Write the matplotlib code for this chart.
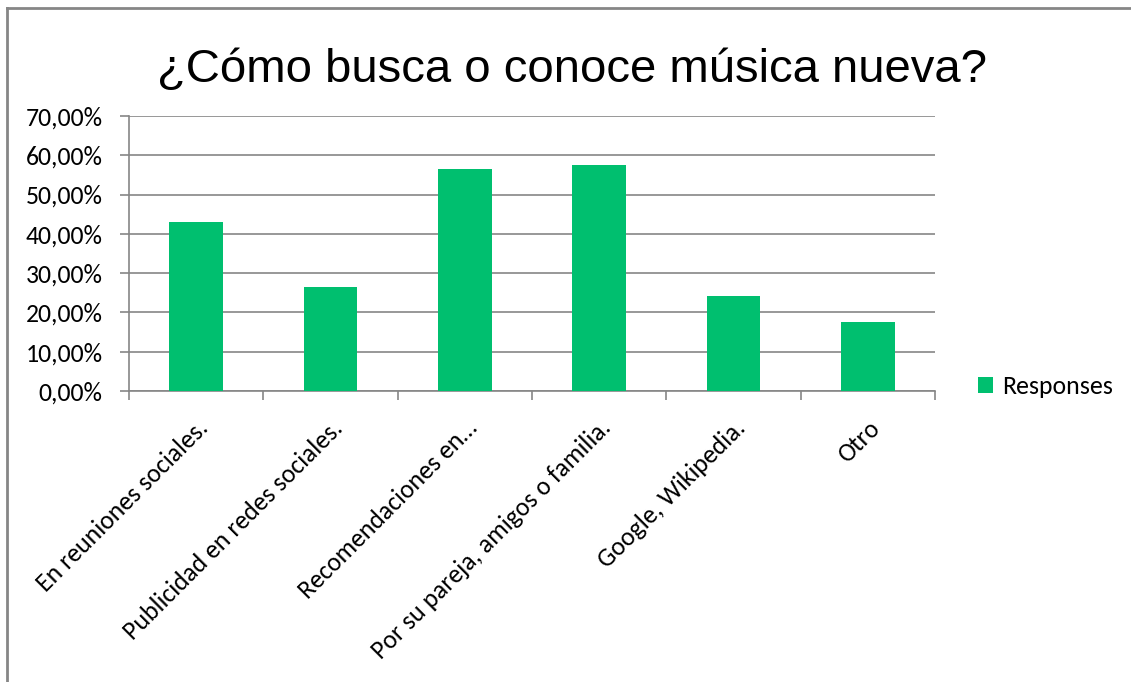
import numpy as np
import matplotlib.pyplot as plt
from matplotlib.lines import Line2D
from matplotlib.ticker import FuncFormatter

# Datos
categorias = ['En reuniones sociales.', 'Publicidad en redes sociales.',
              'Recomendaciones en…', 'Por su pareja, amigos o familia.',
              'Google, Wikipedia.', 'Otro']
respuestas = [43.0, 26.5, 56.5, 57.6, 24.3, 17.5]
ticks_y = [0, 10, 20, 30, 40, 50, 60, 70]

fuente = ['Carlito', 'Lato', 'DejaVu Sans']
gris = '#868686'
verde = '#00BF6F'
tam = 18.5


def main():
    fig = plt.figure(figsize=(11.31, 6.82), dpi=100)
    ax = fig.add_axes([0.1141, 0.4267, 0.7126, 0.4032])

    x = np.arange(len(categorias))
    ax.bar(x, respuestas, width=0.4, color=verde, zorder=3, label='Responses')

    ax.set_xlim(-0.5, len(categorias) - 0.5)
    ax.set_ylim(0, 70)
    ax.set_yticks(ticks_y)
    ax.yaxis.set_major_formatter(FuncFormatter(lambda v, p: f'{v:.2f}%'.replace('.', ',')))
    ax.grid(axis='y', color=gris, linewidth=1.2, zorder=0)

    # ticks op categoriegrenzen, labels in het midden
    ax.set_xticks(np.arange(len(categorias) + 1) - 0.5)
    ax.set_xticklabels([])
    ax.set_xticks(x, minor=True)
    ax.set_xticklabels(categorias, minor=True, rotation=45, ha='right',
                       rotation_mode='anchor', family=fuente, fontsize=tam)
    ax.tick_params(axis='x', which='minor', length=0, pad=18)
    ax.tick_params(axis='x', which='major', length=6.5, color=gris, width=1.2)
    ax.tick_params(axis='y', length=6.5, color=gris, width=1.2, pad=12.5)
    for lbl in ax.get_yticklabels():
        lbl.set_family(fuente)
        lbl.set_fontsize(tam)

    for s in ['top', 'right']:
        ax.spines[s].set_visible(False)
    for s in ['left', 'bottom']:
        ax.spines[s].set_color(gris)
        ax.spines[s].set_linewidth(1.2)

    fig.text(0.506, 0.88, '¿Cómo busca o conoce música nueva?',
             ha='center', va='baseline', fontsize=34,
             family=['Liberation Sans Narrow', 'Liberation Sans'])

    ax.legend(loc='center left', bbox_to_anchor=(0.865, 0.4326),
              bbox_transform=fig.transFigure, frameon=False,
              prop={'family': fuente, 'size': tam},
              handlelength=0.58, handleheight=0.58, handletextpad=0.35,
              borderpad=0, borderaxespad=0)

    # rand rond de grafiek
    fig.add_artist(Line2D([0.0062, 0.0062], [0, 0.989], color=gris, linewidth=2))
    fig.add_artist(Line2D([0.0062, 1], [0.989, 0.989], color=gris, linewidth=2))

    fig.savefig('out.png', dpi=100)


if __name__ == '__main__':
    main()
